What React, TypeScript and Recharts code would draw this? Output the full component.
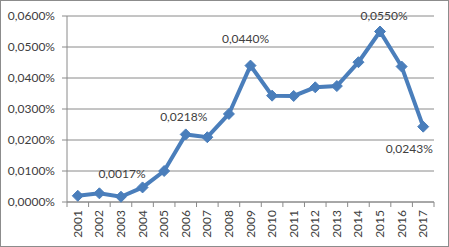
import React from 'react';
import { LineChart, Line, XAxis, YAxis, CartesianGrid, LabelList } from 'recharts';

const years = ['2001','2002','2003','2004','2005','2006','2007','2008','2009','2010','2011','2012','2013','2014','2015','2016','2017'];
const values = [0.0020,0.0028,0.0017,0.0047,0.0100,0.0218,0.0209,0.0284,0.0440,0.0343,0.0342,0.0370,0.0374,0.0451,0.0550,0.0437,0.0243];
const yTicks = [0, 0.01, 0.02, 0.03, 0.04, 0.05, 0.06];
const labeledYears = ['2003','2006','2009','2015','2017'];

// layout offsets for the value labels (pixels)
const labelOffsets: Record<string, { dx: number; dy: number }> = {
  '2003': { dx: 1, dy: -23 },
  '2006': { dx: -2, dy: -18 },
  '2009': { dx: -5, dy: -27 },
  '2015': { dx: 4, dy: -16 },
  '2017': { dx: -14, dy: 22 },
};

const data = years.map((y, i) => ({ year: y, value: values[i] }));

const FONT = 'Lato, "Liberation Sans", sans-serif';
const TEXT = '#404040';
const GRID = '#8a8a8a';
const LINE = '#4A7EBB';
const PLOT_LEFT = 67;
const PLOT_RIGHT = 434;
const BAND = (PLOT_RIGHT - PLOT_LEFT) / years.length;

const fmt = (v: number) => v.toFixed(4).replace('.', ',') + '%';

const XTick = (props: any) => {
  const { x, y, payload, index } = props;
  const axisY = y - 8;
  return (
    <g>
      <line x1={x - BAND / 2} x2={x - BAND / 2} y1={axisY} y2={axisY + 5} stroke={GRID} />
      {index === years.length - 1 && (
        <line x1={x + BAND / 2} x2={x + BAND / 2} y1={axisY} y2={axisY + 5} stroke={GRID} />
      )}
      <text
        x={x + 4}
        y={axisY + 8}
        transform={`rotate(-90, ${x + 4}, ${axisY + 8})`}
        textAnchor="end"
        fontSize={12}
        fontFamily={FONT}
        fill={TEXT}
      >
        {payload.value}
      </text>
    </g>
  );
};

const Diamond = (props: any) => {
  const { cx, cy } = props;
  const r = 5.5;
  return (
    <polygon
      points={`${cx},${cy - r} ${cx + r},${cy} ${cx},${cy + r} ${cx - r},${cy}`}
      fill={LINE}
      stroke={LINE}
      strokeWidth={1}
    />
  );
};

const ValueLabel = (props: any) => {
  const { x, y, index } = props;
  const yr = years[index];
  if (!labeledYears.includes(yr)) return null;
  const off = labelOffsets[yr];
  return (
    <text
      x={x + off.dx}
      y={y + off.dy}
      textAnchor="middle"
      dominantBaseline="central"
      fontSize={12}
      fontFamily={FONT}
      fill={TEXT}
    >
      {fmt(values[index])}
    </text>
  );
};

export default function App() {
  return (
    <div style={{ position: 'absolute', left: 0, top: 0, width: 449, height: 247 }}>
      <div
        style={{
          position: 'absolute',
          left: 0,
          top: 0,
          width: 449,
          height: 247,
          boxSizing: 'border-box',
          border: '1px solid #8c8c8c',
          background: '#ffffff',
        }}
      />
      <div style={{ position: 'absolute', left: 0, top: 0 }}>
        <LineChart width={449} height={247} data={data} margin={{ top: 16, right: 15, bottom: 5, left: 0 }}>
          <CartesianGrid vertical={false} stroke={GRID} strokeWidth={1} />
          <XAxis
            dataKey="year"
            height={40}
            interval={0}
            padding={{ left: BAND / 2, right: BAND / 2 }}
            axisLine={{ stroke: GRID }}
            tickLine={false}
            tick={<XTick />}
          />
          <YAxis
            width={67}
            domain={[0, 0.06]}
            ticks={yTicks}
            tickFormatter={fmt}
            axisLine={{ stroke: GRID }}
            tickLine={{ stroke: GRID }}
            tickSize={5}
            tickMargin={7}
            tick={{ fontSize: 12, fontFamily: FONT, fill: TEXT }}
          />
          <Line
            type="linear"
            dataKey="value"
            stroke={LINE}
            strokeWidth={4}
            dot={<Diamond />}
            activeDot={false}
            isAnimationActive={false}
          >
            <LabelList dataKey="value" content={<ValueLabel />} />
          </Line>
        </LineChart>
      </div>
    </div>
  );
}
